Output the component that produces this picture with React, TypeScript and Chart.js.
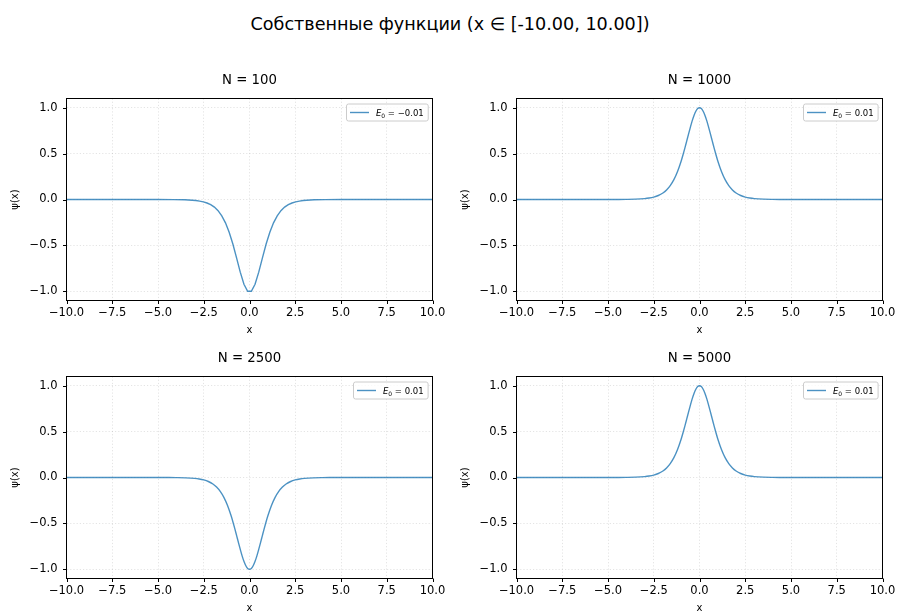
import React, { useEffect, useRef } from 'react';
import { Chart, registerables } from 'chart.js';
Chart.register(...registerables);

const supTitle = 'Собственные функции (x ∈ [-10.00, 10.00])';
const panelTitles = ['N = 100', 'N = 1000', 'N = 2500', 'N = 5000'];
const energyLabels = ['−0.01', '0.01', '0.01', '0.01'];
const xTickValues = [-10, -7.5, -5, -2.5, 0, 2.5, 5, 7.5, 10];
const yTickValues = [-1, -0.5, 0, 0.5, 1];

// N = 100 (coarse grid)
const xN100 = [-10, -5.05, -4.141, -3.535, -3.131, -2.929, -2.727, -2.525, -2.323, -2.121, -1.919, -1.717, -1.515, -1.313, -1.111, -0.909, -0.707, -0.505, -0.303, -0.101,
  0.101, 0.303, 0.505, 0.707, 0.909, 1.111, 1.313, 1.515, 1.717, 1.919, 2.121, 2.323, 2.525, 2.727, 2.929, 3.131, 3.535, 4.141, 5.05, 10];
const psiN100 = [0, -0.0002, -0.001, -0.0034, -0.0077, -0.0115, -0.0172, -0.0256, -0.038, -0.056, -0.083, -0.122, -0.178, -0.254, -0.357, -0.485, -0.636, -0.791, -0.923, -1.0,
  -1.0, -0.923, -0.791, -0.636, -0.485, -0.357, -0.254, -0.178, -0.122, -0.083, -0.056, -0.038, -0.0256, -0.0172, -0.0115, -0.0077, -0.0034, -0.001, -0.0002, 0];

// Fine grids (N = 1000, 2500, 5000)
const xFine = [-10, -9, -8, -7, -6, -5, -4.5, -4, -3.5, -3, -2.75, -2.5, -2.25, -2, -1.8, -1.6, -1.4, -1.2, -1.0, -0.9, -0.8, -0.7, -0.6, -0.5, -0.4, -0.3, -0.2, -0.1, 0,
  0.1, 0.2, 0.3, 0.4, 0.5, 0.6, 0.7, 0.8, 0.9, 1.0, 1.2, 1.4, 1.6, 1.8, 2, 2.25, 2.5, 2.75, 3, 3.5, 4, 4.5, 5, 6, 7, 8, 9, 10];
const psiN1000 = [0, 0, 0, 0, 0, 0.0002, 0.0005, 0.0013, 0.0036, 0.0099, 0.0162, 0.0266, 0.0435, 0.0707, 0.104, 0.151, 0.216, 0.305, 0.42, 0.487, 0.559, 0.635, 0.712, 0.786, 0.856, 0.915, 0.961, 0.99, 1.0,
  0.99, 0.961, 0.915, 0.856, 0.786, 0.712, 0.635, 0.559, 0.487, 0.42, 0.305, 0.216, 0.151, 0.104, 0.0707, 0.0435, 0.0266, 0.0162, 0.0099, 0.0036, 0.0013, 0.0005, 0.0002, 0, 0, 0, 0, 0];
const psiN2500 = [0, 0, 0, 0, 0, -0.0002, -0.0005, -0.0013, -0.0036, -0.0099, -0.0162, -0.0266, -0.0435, -0.0707, -0.104, -0.151, -0.216, -0.305, -0.42, -0.487, -0.559, -0.635, -0.712, -0.786, -0.856, -0.915, -0.961, -0.99, -1.0,
  -0.99, -0.961, -0.915, -0.856, -0.786, -0.712, -0.635, -0.559, -0.487, -0.42, -0.305, -0.216, -0.151, -0.104, -0.0707, -0.0435, -0.0266, -0.0162, -0.0099, -0.0036, -0.0013, -0.0005, -0.0002, 0, 0, 0, 0, 0];
const psiN5000 = [0, 0, 0, 0, 0, 0.0002, 0.0005, 0.0013, 0.0036, 0.0099, 0.0162, 0.0266, 0.0435, 0.0707, 0.104, 0.151, 0.216, 0.305, 0.42, 0.487, 0.559, 0.635, 0.712, 0.786, 0.856, 0.915, 0.961, 0.99, 1.0,
  0.99, 0.961, 0.915, 0.856, 0.786, 0.712, 0.635, 0.559, 0.487, 0.42, 0.305, 0.216, 0.151, 0.104, 0.0707, 0.0435, 0.0266, 0.0162, 0.0099, 0.0036, 0.0013, 0.0005, 0.0002, 0, 0, 0, 0, 0];

const FONT = '"DejaVu Sans", "Liberation Sans", sans-serif';
const LINE_COLOR = 'rgba(31,119,180,0.8)';

const fmt = (v: number) => v.toFixed(1).replace('-', '\u2212');

const decorPlugin = {
  id: 'mplDecor',
  afterDraw(chart: any, _args: any, opts: any) {
    const { ctx, chartArea: a } = chart;
    const sx = chart.scales.x;
    const sy = chart.scales.y;
    ctx.save();
    // spines
    ctx.strokeStyle = '#000';
    ctx.lineWidth = 1;
    ctx.setLineDash([]);
    ctx.strokeRect(a.left, a.top, a.right - a.left, a.bottom - a.top);
    // tick marks
    ctx.beginPath();
    xTickValues.forEach((v) => {
      const px = Math.round(sx.getPixelForValue(v)) + 0.5;
      ctx.moveTo(px, a.bottom);
      ctx.lineTo(px, a.bottom + 3.5);
    });
    yTickValues.forEach((v) => {
      const py = Math.round(sy.getPixelForValue(v)) + 0.5;
      ctx.moveTo(a.left - 3.5, py);
      ctx.lineTo(a.left, py);
    });
    ctx.stroke();
    // panel title
    ctx.fillStyle = '#000';
    ctx.font = `13.3px ${FONT}`;
    ctx.textAlign = 'center';
    ctx.textBaseline = 'alphabetic';
    ctx.fillText(opts.title, (a.left + a.right) / 2, a.top - 14.5);
    // legend
    const fs = 8.5;
    ctx.font = `italic ${fs}px ${FONT}`;
    const wE = ctx.measureText('E').width;
    ctx.font = `${fs * 0.7}px ${FONT}`;
    const wSub = ctx.measureText('0').width;
    ctx.font = `${fs}px ${FONT}`;
    const rest = ' = ' + opts.energy;
    const wRest = ctx.measureText(rest).width;
    const textW = wE + wSub + wRest;
    const pad = 3.5, lineLen = 19, gap = 7;
    const boxW = pad + lineLen + gap + textW + pad + 1;
    const boxH = 17;
    const bx = Math.round(a.right - 4.5 - boxW) + 0.5;
    const by = a.top + 5.5;
    ctx.beginPath();
    ctx.roundRect(bx, by, boxW, boxH, 2);
    ctx.fillStyle = 'rgba(255,255,255,0.8)';
    ctx.fill();
    ctx.strokeStyle = '#cccccc';
    ctx.lineWidth = 1;
    ctx.stroke();
    const mid = by + boxH / 2;
    ctx.beginPath();
    ctx.strokeStyle = LINE_COLOR;
    ctx.lineWidth = 1.4;
    ctx.moveTo(bx + pad, mid);
    ctx.lineTo(bx + pad + lineLen, mid);
    ctx.stroke();
    let tx = bx + pad + lineLen + gap;
    const base = mid + fs * 0.36;
    ctx.fillStyle = '#000';
    ctx.textAlign = 'left';
    ctx.font = `italic ${fs}px ${FONT}`;
    ctx.fillText('E', tx, base);
    tx += wE;
    ctx.font = `${fs * 0.7}px ${FONT}`;
    ctx.fillText('0', tx, base + 2);
    tx += wSub;
    ctx.font = `${fs}px ${FONT}`;
    ctx.fillText(rest, tx, base);
    ctx.restore();
  },
};

type PanelProps = {
  left: number;
  top: number;
  xs: number[];
  ys: number[];
  title: string;
  energy: string;
  smooth: boolean;
};

const CW = 450;
const CH = 280;
const PAD_TOP = 38.5;
const X_AXIS_H = 39.5;
const Y_AXIS_W = 66.5;
const PAD_RIGHT = 17.5;

function Panel({ left, top, xs, ys, title, energy, smooth }: PanelProps) {
  const ref = useRef<HTMLCanvasElement | null>(null);
  useEffect(() => {
    if (!ref.current) return;
    const chart = new Chart(ref.current, {
      type: 'line',
      data: {
        datasets: [
          {
            label: 'E0 = ' + energy,
            data: xs.map((x, i) => ({ x, y: ys[i] })),
            borderColor: LINE_COLOR,
            borderWidth: 1.4,
            pointRadius: 0,
            fill: false,
            cubicInterpolationMode: smooth ? 'monotone' : 'default',
            tension: 0,
          },
        ],
      },
      options: {
        responsive: false,
        animation: false,
        devicePixelRatio: 1,
        layout: { padding: { top: PAD_TOP, left: 0, right: PAD_RIGHT, bottom: 0 } },
        plugins: {
          legend: { display: false },
          tooltip: { enabled: false },
          title: { display: false },
          mplDecor: { title, energy },
        } as any,
        scales: {
          x: {
            type: 'linear',
            min: -10,
            max: 10,
            afterBuildTicks: (s: any) => {
              s.ticks = xTickValues.map((v) => ({ value: v }));
            },
            afterFit: (s: any) => {
              s.height = X_AXIS_H;
              s.paddingLeft = 0;
              s.paddingRight = 0;
            },
            ticks: {
              autoSkip: false,
              maxRotation: 0,
              color: '#000',
              padding: 6,
              font: { family: FONT, size: 11.5 },
              callback: (v: any) => fmt(Number(v)),
            },
            grid: { color: 'rgba(170,170,170,0.4)', lineWidth: 0.8, drawTicks: false },
            border: { display: false, dash: [1.2, 2] },
            title: {
              display: true,
              text: 'x',
              color: '#000',
              font: { family: FONT, size: 10 },
              padding: { top: 0, bottom: 4 },
            },
          },
          y: {
            type: 'linear',
            min: -1.1,
            max: 1.1,
            afterBuildTicks: (s: any) => {
              s.ticks = yTickValues.map((v) => ({ value: v }));
            },
            afterFit: (s: any) => {
              s.width = Y_AXIS_W;
              s.paddingTop = 0;
              s.paddingBottom = 0;
            },
            ticks: {
              color: '#000',
              padding: 9,
              font: { family: FONT, size: 11.5 },
              callback: (v: any) => fmt(Number(v)),
            },
            grid: { color: 'rgba(170,170,170,0.4)', lineWidth: 0.8, drawTicks: false },
            border: { display: false, dash: [1.2, 2] },
            title: {
              display: true,
              text: 'ψ(x)',
              color: '#000',
              font: { family: FONT, size: 10 },
              padding: { top: 9, bottom: 0 },
            },
          },
        },
      },
      plugins: [decorPlugin],
    } as any);
    return () => chart.destroy();
  }, [xs, ys, title, energy, smooth]);
  return (
    <canvas
      ref={ref}
      width={CW}
      height={CH}
      style={{ position: 'absolute', left, top, width: CW, height: CH }}
    />
  );
}

export default function App() {
  return (
    <div
      style={{
        position: 'absolute',
        left: 0,
        top: 0,
        width: 900,
        height: 611,
        overflow: 'hidden',
        background: '#fff',
      }}
    >
      <div
        style={{
          position: 'absolute',
          left: 0,
          top: 0,
          width: 900,
          height: 48,
          lineHeight: '48px',
          textAlign: 'center',
          fontFamily: FONT,
          fontSize: 17.6,
          color: '#000',
        }}
      >
        {supTitle}
      </div>
      <Panel left={0} top={60} xs={xN100} ys={psiN100} title={panelTitles[0]} energy={energyLabels[0]} smooth={false} />
      <Panel left={450} top={60} xs={xFine} ys={psiN1000} title={panelTitles[1]} energy={energyLabels[1]} smooth={true} />
      <Panel left={0} top={338} xs={xFine} ys={psiN2500} title={panelTitles[2]} energy={energyLabels[2]} smooth={true} />
      <Panel left={450} top={338} xs={xFine} ys={psiN5000} title={panelTitles[3]} energy={energyLabels[3]} smooth={true} />
    </div>
  );
}
